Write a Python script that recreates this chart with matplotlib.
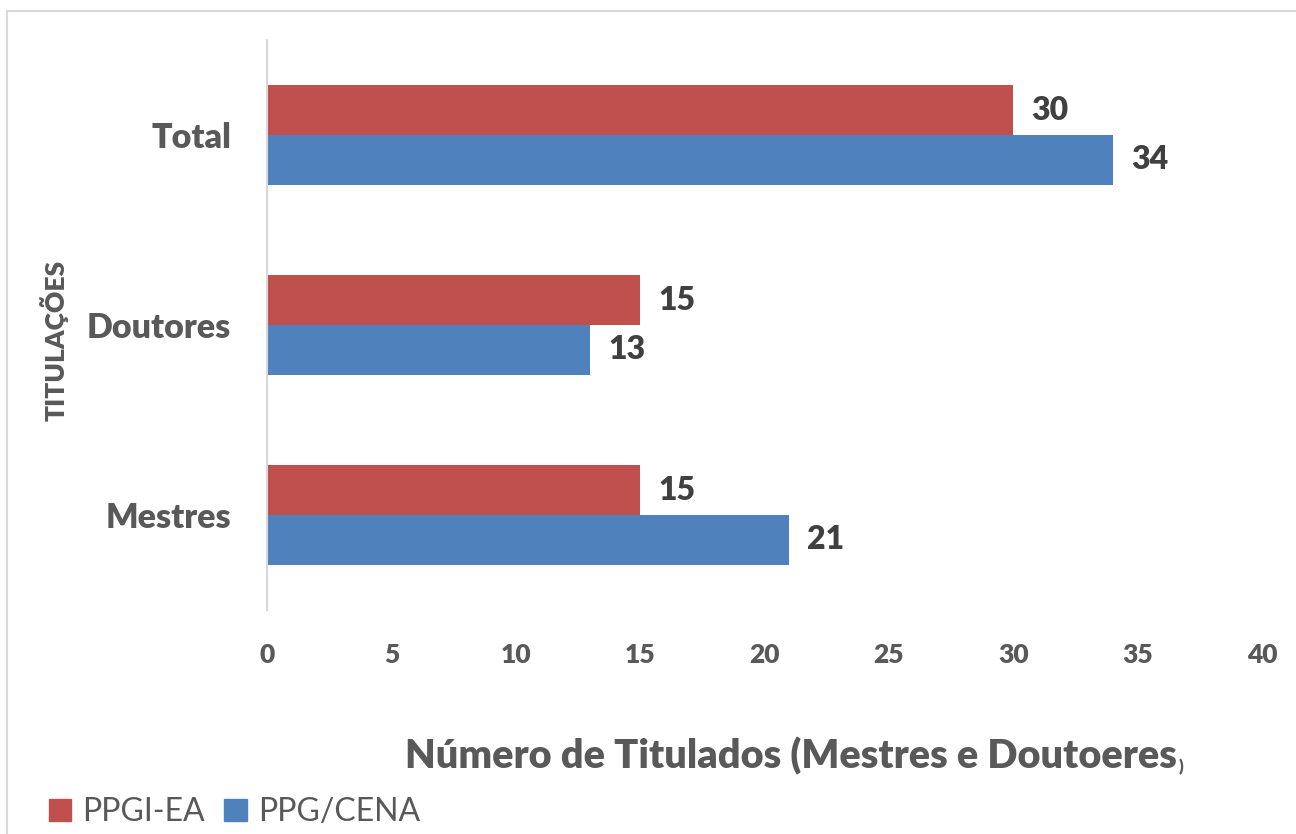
import matplotlib.pyplot as plt
import numpy as np
from matplotlib.patches import Rectangle

plt.rcParams['font.family'] = ['Lato', 'DejaVu Sans']

# data
categories = ['Mestres', 'Doutores', 'Total']
ppgi_ea = [15, 15, 30]
ppg_cena = [21, 13, 34]
series_names = ['PPGI-EA', 'PPG/CENA']
xticks = [0, 5, 10, 15, 20, 25, 30, 35, 40]

red = '#C0504D'
blue = '#4F81BD'
gray_txt = '#595959'
val_txt = '#404040'
wt = 'heavy'

W, H = 1296, 834
fig = plt.figure(figsize=(W / 100, H / 100), dpi=100)

# chart area border (runs off the right/bottom edge)
fig.patches.append(Rectangle((7 / W, -0.1), 1.2, 1 - 11 / H + 0.1,
                             transform=fig.transFigure, fill=False,
                             edgecolor='#D9D9D9', lw=1.5))

ax = fig.add_axes([267 / W, 1 - 610 / H, (1262 - 267) / W, 570 / H])

y = np.arange(len(categories))
h = 0.263
ax.barh(y + h / 2, ppgi_ea, height=h, color=red, label=series_names[0])
ax.barh(y - h / 2, ppg_cena, height=h, color=blue, label=series_names[1])

for yi, v in zip(y, ppgi_ea):
    ax.annotate(str(v), (v, yi + h / 2), xytext=(13, 0), textcoords='offset points',
                va='center', ha='left', fontsize=23, fontweight=wt, color=val_txt)
for yi, v in zip(y, ppg_cena):
    ax.annotate(str(v), (v, yi - h / 2), xytext=(13, 0), textcoords='offset points',
                va='center', ha='left', fontsize=23, fontweight=wt, color=val_txt)

ax.set_xlim(0, 40)
ax.set_ylim(-0.5, 2.5)
ax.set_xticks(xticks)
ax.set_yticks(y)
ax.set_yticklabels(categories)
ax.tick_params(axis='x', length=0, pad=24, labelsize=19, labelcolor=gray_txt)
ax.tick_params(axis='y', length=0, pad=26, labelsize=24.5, labelcolor=gray_txt)
for lab in ax.get_xticklabels() + ax.get_yticklabels():
    lab.set_fontweight(wt)

for s in ['top', 'right', 'bottom']:
    ax.spines[s].set_visible(False)
ax.spines['left'].set_color('#D9D9D9')
ax.spines['left'].set_linewidth(1.5)

fig.text(54 / W, 1 - 340 / H, 'TITULAÇÕES', rotation=90, fontsize=19,
         fontweight=wt, color=gray_txt, ha='center', va='center')

xl = fig.text(405 / W, 1 - 768 / H, 'Número de Titulados (Mestres e Doutoeres',
              fontsize=28.5, fontweight=wt, color=gray_txt, ha='left', va='baseline')
# small closing bracket, as in the original
ax.annotate(')', xy=(1, 0), xycoords=xl, xytext=(1, 0), textcoords='offset points',
            ha='left', va='bottom', fontsize=12, fontweight=wt, color=gray_txt,
            annotation_clip=False)

handles = [Rectangle((0, 0), 1, 1, color=red), Rectangle((0, 0), 1, 1, color=blue)]
fig.legend(handles, series_names, loc='lower left', bbox_to_anchor=(49 / W, 7 / H),
           ncol=2, frameon=False, fontsize=23, labelcolor=gray_txt,
           handlelength=0.7, handleheight=0.7, handletextpad=0.35,
           columnspacing=0.6, borderaxespad=0, borderpad=0)

fig.savefig('out.png', dpi=100)
